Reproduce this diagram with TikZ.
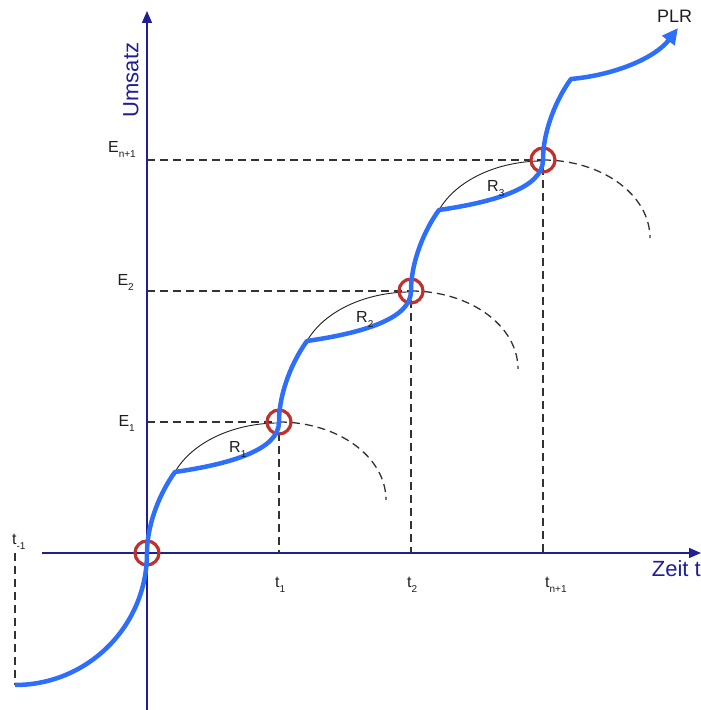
\documentclass[tikz,border=0pt]{standalone}
\usepackage{fontspec}
\setmainfont{Liberation Sans}
\usetikzlibrary{arrows.meta}
\definecolor{axisblue}{RGB}{30,30,150}
\definecolor{curveblue}{RGB}{45,110,250}
\definecolor{ringred}{RGB}{190,50,45}
\definecolor{guide}{RGB}{50,50,50}
\definecolor{txt}{RGB}{30,30,30}
\newcommand{\sublbl}[2]{#1\raisebox{-0.5ex}{\fontsize{10}{10}\selectfont #2}}
\tikzset{
  axisline/.style={draw=axisblue, line width=1.4pt, -{Triangle[length=12pt,width=10pt]}},
  guideline/.style={draw=guide, line width=1.3pt, dash pattern=on 8pt off 5pt},
  thinarc/.style={draw=txt, line width=0.9pt},
  curve/.style={draw=curveblue, line width=4.5pt, line join=round},
  ring/.style={draw=ringred, line width=3.2pt, circle, minimum size=24pt, inner sep=0pt},
  lbl/.style={text=txt, font=\fontsize{16}{18}\selectfont, inner sep=0pt},
  axislbl/.style={text=axisblue, font=\fontsize{22}{24}\selectfont, inner sep=0pt},
}
\begin{document}
\begin{tikzpicture}[x=1pt,y=1pt]
\useasboundingbox (0,0) rectangle (701,710);
% key points
\coordinate (O) at (147,157);
\coordinate (P1) at (279,288);
\coordinate (P2) at (411,419);
\coordinate (P3) at (543,550);
\coordinate (C1) at (175,238);
\coordinate (C2) at (307,369);
\coordinate (C3) at (439,500);
\coordinate (C4) at (571,631);
\coordinate (S) at (15,25);
\coordinate (T) at (678,682);
\coordinate (Tm) at (15,157);
\coordinate (Xs) at (42,157);
\coordinate (Xe) at (701,157);
\coordinate (Ys) at (147,0);
\coordinate (Ye) at (147,699);
\coordinate (A1) at (147,288);
\coordinate (A2) at (147,419);
\coordinate (A3) at (147,550);
\coordinate (B1) at (279,157);
\coordinate (B2) at (411,157);
\coordinate (B3) at (543,157);
% axes
\draw[axisline] (Xs) -- (Xe);
\draw[axisline] (Ys) -- (Ye);
% guide lines
\draw[guideline] (A1) -- (P1) -- (B1);
\draw[guideline] (A2) -- (P2) -- (B2);
\draw[guideline] (A3) -- (P3) -- (B3);
\draw[guideline] (Tm) -- (S);
% dashed arcs
\foreach \p in {P1,P2,P3}{
  \draw[guideline] (\p) arc[start angle=90, end angle=0, x radius=107, y radius=78];
}
% thin arcs
\draw[thinarc] (C1) arc[start angle=158.2, end angle=90, x radius=112, y radius=78];
\draw[thinarc] (C2) arc[start angle=158.2, end angle=90, x radius=112, y radius=78];
\draw[thinarc] (C3) arc[start angle=158.2, end angle=90, x radius=112, y radius=78];
% rings
\node[ring] (r0) at (O) {};
\node[ring] (r1) at (P1) {};
\node[ring] (r2) at (P2) {};
\node[ring] (r3) at (P3) {};
% main curve
\draw[curve, -{Triangle[length=16pt,width=15pt]}] (S) arc[start angle=270, end angle=360, radius=132]
  .. controls +(0,30) and +(-14,-19) .. (C1)
  .. controls +(55,8) and +(0,-28) .. (P1)
  .. controls +(0,30) and +(-14,-19) .. (C2)
  .. controls +(55,8) and +(0,-28) .. (P2)
  .. controls +(0,30) and +(-14,-19) .. (C3)
  .. controls +(55,8) and +(0,-28) .. (P3)
  .. controls +(0,30) and +(-14,-19) .. (C4)
  .. controls +(44,4) and +(-23,-30) .. (T);
% labels
\node[lbl, anchor=base east] (e1) at (135,283) {\sublbl{E}{1}};
\node[lbl, anchor=base east] (e2) at (134,424) {\sublbl{E}{2}};
\node[lbl, anchor=base east] (e3) at (136,557) {\sublbl{E}{n+1}};
\node[lbl, anchor=base west] (t1) at (275,122) {\sublbl{t}{1}};
\node[lbl, anchor=base west] (t2) at (407,122) {\sublbl{t}{2}};
\node[lbl, anchor=base west] (t3) at (545,122) {\sublbl{t}{n+1}};
\node[lbl, anchor=base west] (t0) at (12,165) {\sublbl{t}{-1}};
\node[lbl, anchor=base west] (R1) at (229,257) {\sublbl{R}{1}};
\node[lbl, anchor=base west] (R2) at (356,387) {\sublbl{R}{2}};
\node[lbl, anchor=base west] (R3) at (487,518) {\sublbl{R}{3}};
\node[lbl, anchor=base west, font=\fontsize{18}{20}\selectfont] (plr) at (657,687) {PLR};
\node[axislbl, anchor=base east] (zeit) at (701,133) {Zeit t};
\node[axislbl, rotate=90] (ums) at (131,630) {Umsatz};
\end{tikzpicture}
\end{document}
